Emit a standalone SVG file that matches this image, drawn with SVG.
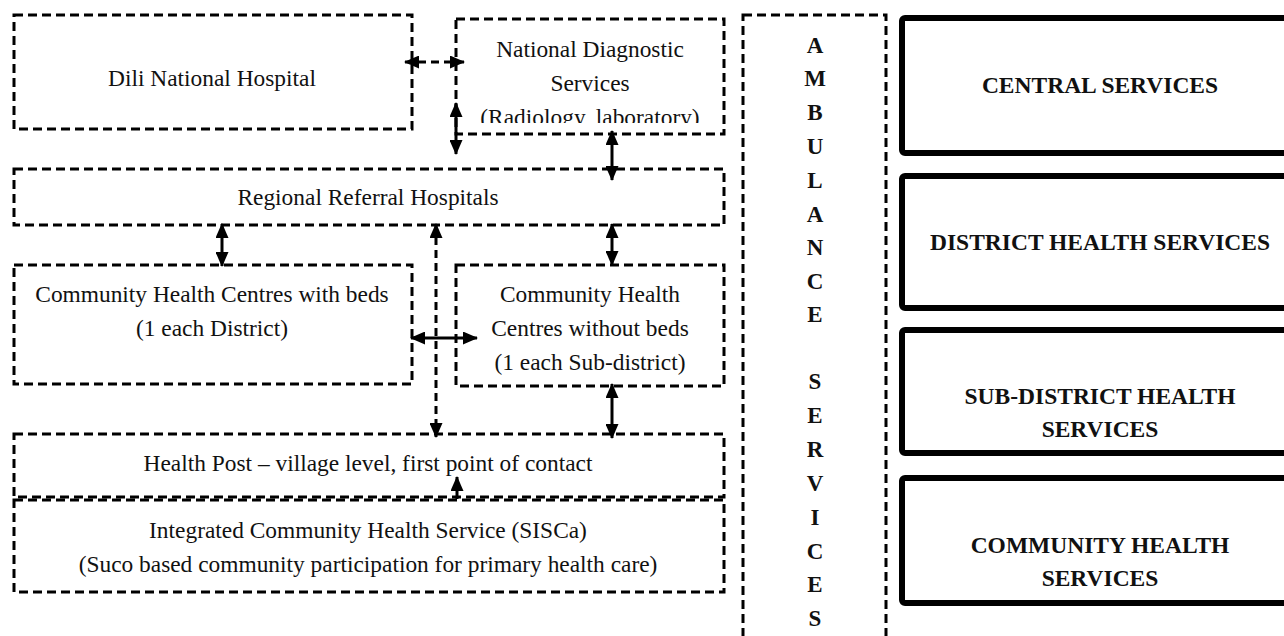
<svg xmlns="http://www.w3.org/2000/svg" width="1284" height="636" viewBox="0 0 1284 636">
<style>
.d{fill:none;stroke:#000;stroke-width:3;stroke-dasharray:9 5}
.s{fill:none;stroke:#000;stroke-width:6}
.t{font-family:"Liberation Serif","Times New Roman",serif;font-size:23.4px;fill:#111;text-anchor:middle}
.b{font-family:"Liberation Serif","Times New Roman",serif;font-size:23.5px;font-weight:bold;fill:#111;text-anchor:middle}
.c{fill:none;stroke:#000;stroke-width:3}
.cd{fill:none;stroke:#000;stroke-width:3;stroke-dasharray:8 5}
</style>
<defs>
<marker id="ah" viewBox="0 0 15 13" markerWidth="15" markerHeight="13" refX="14" refY="6.5" orient="auto-start-reverse" markerUnits="userSpaceOnUse">
<path d="M0,0 L15,6.5 L0,13 z" fill="#000"/>
</marker>
<clipPath id="ndsclip"><rect x="456" y="19" width="268" height="104"/></clipPath>
</defs>
<rect width="1284" height="636" fill="#fff"/>

<g id="dili">
<rect class="d" x="14" y="15" width="398" height="114"/>
<text class="t" x="212" y="86">Dili National Hospital</text>
</g>
<g id="nds">
<rect class="d" x="456" y="19" width="268" height="115"/>
<g clip-path="url(#ndsclip)">
<text class="t" x="590" y="57">National Diagnostic</text>
<text class="t" x="590" y="91">Services</text>
<text class="t" x="590" y="125">(Radiology, laboratory)</text>
</g>
</g>
<g id="regional">
<rect class="d" x="14" y="169" width="710" height="56"/>
<text class="t" x="368" y="205">Regional Referral Hospitals</text>
</g>
<g id="chc-beds">
<rect class="d" x="14" y="265" width="398" height="119"/>
<text class="t" x="212" y="302">Community Health Centres with beds</text>
<text class="t" x="212" y="336">(1 each District)</text>
</g>
<g id="chc-nobeds">
<rect class="d" x="456" y="265" width="268" height="121"/>
<text class="t" x="590" y="302">Community Health</text>
<text class="t" x="590" y="336">Centres without beds</text>
<text class="t" x="590" y="370">(1 each Sub-district)</text>
</g>
<g id="healthpost">
<rect class="d" x="14" y="434" width="710" height="63"/>
<text class="t" x="368" y="471">Health Post – village level, first point of contact</text>
</g>
<g id="sisca">
<rect class="d" x="14" y="500" width="710" height="92"/>
<text class="t" x="368" y="538">Integrated Community Health Service (SISCa)</text>
<text class="t" x="368" y="572">(Suco based community participation for primary health care)</text>
</g>
<g id="ambulance">
<rect class="d" x="743" y="15" width="143" height="630"/>
<g class="b" style="font-size:23px">
<text x="815" y="53">A</text>
<text x="815" y="86">M</text>
<text x="815" y="120">B</text>
<text x="815" y="154">U</text>
<text x="815" y="188">L</text>
<text x="815" y="222">A</text>
<text x="815" y="255">N</text>
<text x="815" y="289">C</text>
<text x="815" y="322">E</text>
<text x="815" y="389">S</text>
<text x="815" y="423">E</text>
<text x="815" y="457">R</text>
<text x="815" y="491">V</text>
<text x="815" y="525">I</text>
<text x="815" y="559">C</text>
<text x="815" y="592">E</text>
<text x="815" y="626">S</text>
</g>
</g>
<g id="central">
<rect class="s" x="902" y="18" width="400" height="135" rx="3"/>
<text class="b" x="1100" y="93">CENTRAL SERVICES</text>
</g>
<g id="district">
<rect class="s" x="902" y="176" width="400" height="132" rx="3"/>
<text class="b" x="1100" y="250">DISTRICT HEALTH SERVICES</text>
</g>
<g id="subdistrict">
<rect class="s" x="902" y="330" width="400" height="123" rx="3"/>
<text class="b" x="1100" y="404">SUB-DISTRICT HEALTH</text>
<text class="b" x="1100" y="437">SERVICES</text>
</g>
<g id="community">
<rect class="s" x="902" y="478" width="400" height="125" rx="3"/>
<text class="b" x="1100" y="553">COMMUNITY HEALTH</text>
<text class="b" x="1100" y="586">SERVICES</text>
</g>

<g id="connectors">
<line class="cd" x1="405" y1="62" x2="464" y2="62" marker-start="url(#ah)" marker-end="url(#ah)"/>
<line class="c" x1="456" y1="103" x2="456" y2="154" marker-start="url(#ah)" marker-end="url(#ah)"/>
<line class="c" x1="612" y1="131" x2="612" y2="180" marker-start="url(#ah)" marker-end="url(#ah)"/>
<line class="c" x1="222" y1="224" x2="222" y2="266" marker-start="url(#ah)" marker-end="url(#ah)"/>
<line class="c" x1="612" y1="224" x2="612" y2="265" marker-start="url(#ah)" marker-end="url(#ah)"/>
<line class="cd" x1="436" y1="224" x2="436" y2="437" marker-start="url(#ah)" marker-end="url(#ah)"/>
<line class="c" x1="411" y1="338" x2="477" y2="338" marker-start="url(#ah)" marker-end="url(#ah)"/>
<line class="c" x1="612" y1="384" x2="612" y2="438" marker-start="url(#ah)" marker-end="url(#ah)"/>
<line class="c" x1="457" y1="499" x2="457" y2="477" marker-end="url(#ah)"/>
</g>
</svg>
